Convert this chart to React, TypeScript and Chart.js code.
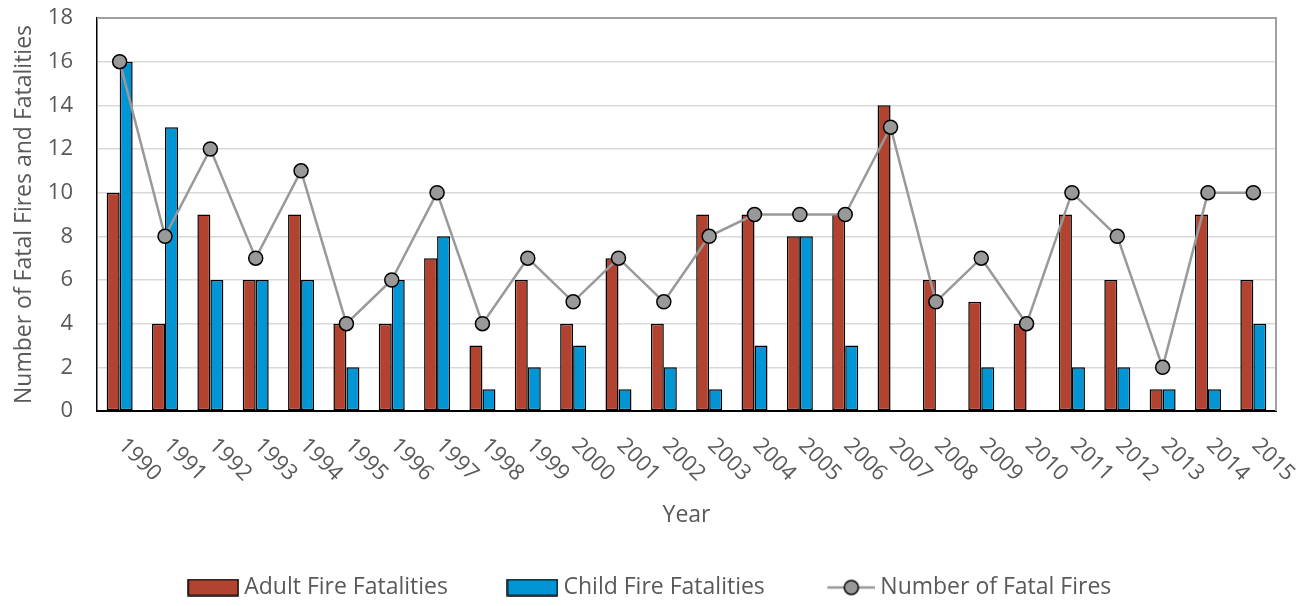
import React, { useEffect, useRef } from "react";
import { Chart, registerables } from "chart.js";

Chart.register(...registerables);

const years = [
  "1990", "1991", "1992", "1993", "1994", "1995", "1996", "1997", "1998", "1999",
  "2000", "2001", "2002", "2003", "2004", "2005", "2006", "2007", "2008", "2009",
  "2010", "2011", "2012", "2013", "2014", "2015",
];
const adultFatalities = [10, 4, 9, 6, 9, 4, 4, 7, 3, 6, 4, 7, 4, 9, 9, 8, 9, 14, 6, 5, 4, 9, 6, 1, 9, 6];
const childFatalities = [16, 13, 6, 6, 6, 2, 6, 8, 1, 2, 3, 1, 2, 1, 3, 8, 3, 0, 0, 2, 0, 2, 2, 1, 1, 4];
const fatalFires = [16, 8, 12, 7, 11, 4, 6, 10, 4, 7, 5, 7, 5, 8, 9, 9, 9, 13, 5, 7, 4, 10, 8, 2, 10, 10];

const seriesNames = ["Adult Fire Fatalities", "Child Fire Fatalities", "Number of Fatal Fires"];
const yMin = 0;
const yMax = 18;
const yStep = 2;
const xTitle = "Year";
const yTitle = "Number of Fatal Fires and Fatalities";

const RED = "#B24331";
const BLUE = "#0096D6";
const GRAY = "#999999";
const TEXT = "#595959";
const FONT = "'Open Sans', Lato, sans-serif";
const TICK_SIZE = 22;
const TEXT_SIZE = 23;

function makeBarSwatch(color: string): HTMLCanvasElement {
  const c = document.createElement("canvas");
  c.width = 52;
  c.height = 18;
  const g = c.getContext("2d")!;
  g.fillStyle = color;
  g.fillRect(1, 1, 50, 16);
  g.strokeStyle = "#000";
  g.lineWidth = 1.5;
  g.strokeRect(1, 1, 50, 16);
  return c;
}

function makeLineSwatch(): HTMLCanvasElement {
  const c = document.createElement("canvas");
  c.width = 52;
  c.height = 18;
  const g = c.getContext("2d")!;
  g.strokeStyle = GRAY;
  g.lineWidth = 2.5;
  g.beginPath();
  g.moveTo(4, 9);
  g.lineTo(52, 9);
  g.stroke();
  g.beginPath();
  g.arc(28, 9, 7, 0, Math.PI * 2);
  g.fillStyle = GRAY;
  g.fill();
  g.strokeStyle = "#000";
  g.lineWidth = 1.5;
  g.stroke();
  return c;
}

const rotatedLabels = {
  id: "rotatedLabels",
  afterDraw(chart: any) {
    const xs = chart.scales.x;
    const ctx = chart.ctx;
    ctx.save();
    ctx.font = `${TICK_SIZE}px ${FONT}`;
    ctx.fillStyle = TEXT;
    ctx.textAlign = "left";
    ctx.textBaseline = "middle";
    xs.ticks.forEach((t: any, i: number) => {
      const x = xs.getPixelForTick(i);
      ctx.save();
      ctx.translate(x + 2, chart.chartArea.bottom + 31);
      ctx.rotate(Math.PI / 4);
      ctx.fillText(String(xs.getLabelForValue(t.value)), 0, 0);
      ctx.restore();
    });
    ctx.restore();
  },
};

const plotBorder = {
  id: "plotBorder",
  beforeDatasetsDraw(chart: any) {
    const { ctx, chartArea } = chart;
    ctx.save();
    ctx.strokeStyle = "#A0A0A0";
    ctx.lineWidth = 2;
    ctx.beginPath();
    ctx.moveTo(chartArea.left, chartArea.top);
    ctx.lineTo(chartArea.right, chartArea.top);
    ctx.lineTo(chartArea.right, chartArea.bottom);
    ctx.stroke();
    ctx.restore();
  },
};

export default function App() {
  const ref = useRef<HTMLCanvasElement | null>(null);

  useEffect(() => {
    if (!ref.current) return;
    const swatches = [makeBarSwatch(RED), makeBarSwatch(BLUE), makeLineSwatch()];
    const chart = new Chart(ref.current, {
      type: "bar",
      data: {
        labels: years,
        datasets: [
          {
            type: "bar",
            label: seriesNames[0],
            data: adultFatalities,
            backgroundColor: RED,
            borderColor: "#000",
            borderWidth: 1.5,
            borderSkipped: false,
            barPercentage: 1,
            categoryPercentage: 0.573,
            order: 1,
          },
          {
            type: "bar",
            label: seriesNames[1],
            data: childFatalities,
            backgroundColor: BLUE,
            borderColor: "#000",
            borderWidth: 1.5,
            borderSkipped: false,
            barPercentage: 1,
            categoryPercentage: 0.573,
            order: 1,
          },
          {
            type: "line",
            label: seriesNames[2],
            data: fatalFires,
            borderColor: GRAY,
            borderWidth: 2.5,
            pointRadius: 7,
            pointBackgroundColor: GRAY,
            pointBorderColor: "#000",
            pointBorderWidth: 1.5,
            tension: 0,
            order: 0,
          } as any,
        ],
      },
      options: {
        animation: false,
        responsive: false,
        maintainAspectRatio: false,
        layout: { padding: { top: 0, right: 0, left: 0, bottom: -3 } },
        plugins: {
          tooltip: { enabled: false },
          legend: {
            position: "bottom",
            labels: {
              usePointStyle: true,
              pointStyleWidth: 39,
              boxHeight: 20,
              padding: 65,
              color: TEXT,
              font: { family: FONT, size: TEXT_SIZE },
              generateLabels: () =>
                seriesNames.map((name, i) => ({
                  text: name,
                  pointStyle: swatches[i] as any,
                  fillStyle: "transparent",
                  strokeStyle: "transparent",
                  lineWidth: 0,
                  hidden: false,
                  datasetIndex: i,
                  fontColor: TEXT,
                })),
            },
          },
        },
        scales: {
          x: {
            type: "category",
            offset: true,
            grid: { display: false, offset: true },
            border: { display: true, color: "#000", width: 2 },
            ticks: { display: false },
            title: {
              display: true,
              text: xTitle,
              color: TEXT,
              font: { family: FONT, size: TEXT_SIZE },
              padding: { top: 0, bottom: -18 },
            },
            afterFit: (s: any) => {
              s.height = 100;
              s.paddingLeft = 0;
              s.paddingRight = 0;
            },
          },
          y: {
            min: yMin,
            max: yMax,
            ticks: {
              stepSize: yStep,
              color: TEXT,
              font: { family: FONT, size: TICK_SIZE },
              padding: 24,
            },
            grid: { color: "#D9D9D9", lineWidth: 1.5, drawTicks: false },
            border: { display: true, color: "#000", width: 1.5 },
            title: {
              display: true,
              text: yTitle,
              color: TEXT,
              font: { family: FONT, size: TEXT_SIZE },
              padding: { top: 11, bottom: 0 },
            },
            afterFit: (s: any) => {
              s.width = 97;
              s.paddingTop = 18;
              s.paddingBottom = 0;
              s.paddingRight = 29;
              s.paddingLeft = 0;
            },
          },
        },
      },
      plugins: [plotBorder, rotatedLabels],
    });
    return () => chart.destroy();
  }, []);

  return (
    <div style={{ position: "absolute", left: 0, top: 0, width: 1305, height: 606, background: "#fff" }}>
      <canvas ref={ref} width={1305} height={606} style={{ display: "block", width: 1305, height: 606 }} />
    </div>
  );
}
